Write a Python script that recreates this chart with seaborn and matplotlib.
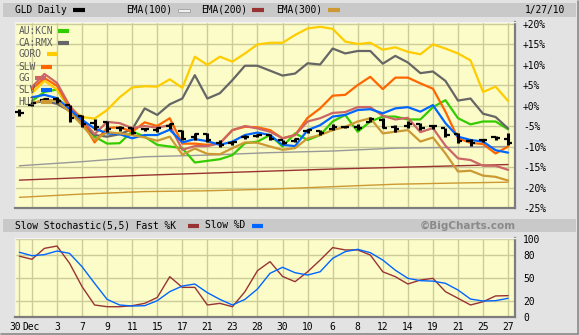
import matplotlib
matplotlib.use("Agg")
import matplotlib.pyplot as plt
import matplotlib.transforms as mtransforms
import seaborn as sns
from matplotlib.patches import Rectangle
from matplotlib.lines import Line2D

# ---------------------------------------------------------------- data
days = list(range(40))                       # trading days 30 Nov 2009 .. 27 Jan 2010
tick_days = [0, 1, 3, 5, 7, 9, 11, 13, 15, 17, 19, 21, 23, 25, 27, 29, 31, 33, 35, 37, 39]
tick_labels = ["30", "Dec", "3", "7", "9", "11", "15", "17", "21", "23", "28", "30",
               "10", "6", "8", "12", "14", "19", "21", "25", "27"]

# GLD daily bars, % change
gld_open = [-1.6, 0.2, 1.4, 1.6, 0.2, -2.6, -4.2, -4.0, -5.4, -5.6, -5.8, -5.9, -5.0, -6.2,
            -7.6, -7.0, -9.2, -9.2, -7.8, -7.4, -7.3, -8.5, -8.6, -6.3, -6.2, -5.8, -5.3,
            -5.2, -4.0, -3.6, -5.2, -5.0, -4.6, -5.0, -5.6, -7.0, -8.6, -8.4, -7.8, -8.1]
gld_high = [-0.8, 0.9, 1.9, 2.0, 0.2, -2.2, -3.4, -3.8, -5.0, -5.3, -5.4, -5.3, -4.3, -6.0,
            -6.8, -6.8, -8.4, -8.6, -7.3, -7.0, -7.0, -8.3, -7.9, -5.8, -5.9, -4.6, -5.0,
            -4.6, -2.8, -3.0, -4.8, -3.9, -4.3, -4.8, -5.6, -6.8, -8.2, -8.1, -7.5, -6.8]
gld_low = [-2.6, 0.0, 1.2, 0.5, -4.0, -5.2, -5.9, -6.5, -6.1, -7.0, -6.1, -6.5, -5.7, -8.4,
           -8.4, -8.8, -10.0, -9.6, -8.2, -7.7, -8.4, -9.5, -8.9, -6.6, -7.2, -6.0, -5.6,
           -6.0, -4.0, -5.6, -6.4, -5.4, -6.0, -5.7, -7.7, -9.2, -9.8, -8.9, -8.5, -9.7]
gld_close = [-1.9, 0.6, 1.6, 1.2, -3.0, -4.6, -5.2, -5.7, -5.5, -6.6, -5.7, -5.6, -4.5, -8.1,
             -7.0, -8.5, -9.6, -9.0, -7.6, -7.2, -8.1, -9.1, -8.1, -6.0, -6.6, -5.3, -5.3,
             -5.6, -3.3, -5.4, -5.7, -4.6, -5.5, -5.0, -7.2, -8.6, -9.1, -8.4, -8.0, -9.2]

# moving averages of GLD, % change
ema_days = [0, 5, 10, 15, 20, 25, 30, 35, 39]
ema100 = [-14.7, -13.7, -12.5, -12.1, -11.5, -11.1, -10.4, -10.2, -10.0]
ema200 = [-18.2, -17.6, -17.0, -16.5, -16.0, -15.5, -15.1, -14.7, -14.4]
ema300 = [-22.4, -21.6, -21.0, -20.8, -20.4, -19.8, -19.2, -18.9, -18.7]

# comparison symbols, % change
stock_days = list(range(1, 40))
au_kcn = [1.1, 3.3, 3.9, -0.7, -3.9, -7.6, -9.3, -9.2, -6.3, -7.6, -9.6, -10.0, -10.4, -13.9,
          -13.5, -13.1, -12.1, -9.2, -8.8, -7.2, -10.0, -6.8, -8.4, -7.2, -3.9, -2.3, -6.4,
          -3.9, -2.7, -2.7, -3.4, -3.4, -0.4, 1.3, -3.1, -4.6, -3.9, -3.9, -5.8]
ca_rmx = [0.6, 1.1, 0.4, -1.3, -4.6, -7.2, -7.6, -7.0, -5.8, -0.7, -2.3, 0.3, 1.7, 7.4, 1.7,
          3.0, 6.2, 9.7, 9.7, 8.5, 7.3, 7.8, 10.3, 10.0, 13.9, 12.7, 13.3, 13.3, 10.2, 12.1,
          10.5, 7.9, 8.3, 6.0, 1.2, 1.7, -2.0, -2.8, -5.6]
goro = [3.0, 6.0, 3.9, -0.5, -2.8, -3.2, -1.1, 2.0, 4.4, 4.7, 4.6, 6.4, 4.3, 11.9, 9.9, 11.9,
        10.7, 12.7, 14.9, 15.3, 15.3, 17.2, 18.8, 19.2, 18.7, 15.6, 15.0, 15.3, 13.6, 14.2,
        13.1, 12.5, 14.9, 13.9, 12.7, 11.0, 3.3, 4.6, 1.1]
slw = [4.0, 6.7, 4.8, -0.5, -3.8, -9.0, -5.5, -5.3, -6.4, -4.1, -5.0, -3.1, -9.3, -9.3, -9.6,
       -9.2, -6.0, -5.2, -5.3, -6.0, -8.0, -7.2, -3.0, -0.7, 2.4, 2.6, 5.0, 7.0, 4.0, 6.8, 6.8,
       5.4, 4.1, -1.5, -8.0, -9.1, -9.4, -11.7, -10.0]
gg = [4.5, 7.7, 5.5, 0.0, -3.5, -7.0, -4.0, -4.3, -5.5, -5.0, -5.4, -4.8, -10.8, -9.9, -9.9,
      -9.2, -6.0, -5.0, -5.6, -6.4, -8.0, -7.2, -3.9, -3.1, -1.8, -1.6, -0.4, -0.4, -2.5, -3.4,
      -3.0, -6.5, -5.5, -9.8, -12.9, -13.3, -14.7, -14.7, -15.7]
slv = [2.0, 2.6, 1.8, -0.9, -3.5, -5.6, -6.8, -7.0, -8.0, -7.2, -7.2, -5.9, -9.0, -8.2, -8.7,
       -9.6, -8.8, -7.2, -6.6, -7.2, -9.6, -9.9, -6.0, -4.8, -2.7, -2.3, -1.1, -0.9, -1.9, -0.7,
       -0.4, -1.5, 0.1, -4.3, -7.6, -8.4, -8.8, -10.9, -11.5]
hui = [0.5, 1.5, 1.1, -1.5, -4.8, -8.4, -6.5, -6.8, -7.2, -7.8, -8.6, -7.6, -12.0, -10.5,
       -11.8, -11.9, -10.4, -9.0, -9.1, -10.0, -10.8, -10.4, -8.0, -7.2, -6.0, -5.2, -3.9,
       -3.1, -6.8, -6.4, -6.0, -8.8, -7.8, -11.7, -16.1, -15.9, -17.1, -17.4, -18.3]

# slow stochastic (5,5)
fast_k = [78, 74, 88, 91, 69, 39, 15.4, 13.2, 13.2, 14.5, 17.5, 25, 51.7, 38, 38, 15.4, 17.5,
          13.2, 32.5, 59.4, 71, 52, 45.3, 58, 73, 89, 86, 86, 79.5, 58, 51.7, 42.3, 47.4, 49.6,
          32.5, 24, 15.4, 19.6, 27, 27.4]
slow_d = [83, 78.6, 80, 84.6, 81.6, 64.5, 43.2, 22.6, 15.4, 14.1, 14.5, 20.9, 32.5, 39.7, 42.3,
          31.2, 22.6, 15.4, 22.6, 35.9, 56, 63.7, 56.8, 53.8, 58, 75.2, 83.8, 86.8, 82.5, 73,
          60, 49.6, 46.6, 46, 43.2, 34.6, 23, 20.5, 20.9, 24]

main_ticks = [20, 15, 10, 5, 0, -5, -10, -15, -20, -25]
main_labels = ["+20%", "+15%", "+10%", "+5%", "+0%", "-5%", "-10%", "-15%", "-20%", "-25%"]
stoch_ticks = [100, 80, 50, 20, 0]
stoch_labels = ["100", "80", "50", "20", "0"]

symbols = ["AU:KCN", "CA:RMX", "GORO", "SLW", "GG", "SLV", "HUI"]
symbol_values = [au_kcn, ca_rmx, goro, slw, gg, slv, hui]
symbol_colors = ["#33cc00", "#666666", "#ffcc00", "#ff6600", "#cc6666", "#0066ff", "#cc9933"]

# ---------------------------------------------------------------- style
sns.set_style("white")
plt.rcParams["font.family"] = ["DejaVu Sans Mono"]
FS = 6.9
PANEL = "#fcfcc8"
GRID = "#cccc99"

W, H = 579, 335
fig = plt.figure(figsize=(W / 100, H / 100), dpi=100)
fig.patch.set_facecolor("#e3e3e3")


def fx(px):
    return px / W


def fy(py):
    return 1 - py / H


def band(x0, y0, x1, y1, color):
    fig.add_artist(Rectangle((fx(x0), fy(y1)), fx(x1) - fx(x0), fy(y0) - fy(y1),
                             transform=fig.transFigure, facecolor=color,
                             edgecolor="none", zorder=0))


def swatch(x0, x1, y, color, lw=3.0):
    fig.add_artist(Line2D([fx(x0), fx(x1)], [fy(y), fy(y)], transform=fig.transFigure,
                          color=color, lw=lw, solid_capstyle="butt", zorder=5))


# header bars
band(3, 3, 576, 17, "#c9c9c9")
band(3, 219, 576, 232, "#c9c9c9")
# outer frame shading
fig.add_artist(Line2D([fx(1), fx(578)], [fy(334), fy(334)], transform=fig.transFigure,
                      color="#8a8a8a", lw=1.2))
fig.add_artist(Line2D([fx(578), fx(578)], [fy(1), fy(334)], transform=fig.transFigure,
                      color="#8a8a8a", lw=1.2))

# ---------------------------------------------------------------- price panel
ax = fig.add_axes([fx(15), fy(208), fx(515) - fx(15), fy(22) - fy(208)])
ax.set_facecolor(PANEL)

for ema, col in zip([ema100, ema200, ema300], ["#999999", "#993333", "#cc9933"]):
    sns.lineplot(x=ema_days, y=ema, color=col, lw=1.0, ax=ax, estimator=None,
                 sort=False, legend=False)

for vals, col in zip(symbol_values, symbol_colors):
    sns.lineplot(x=stock_days, y=vals, color=col, lw=1.6, ax=ax, estimator=None,
                 sort=False, legend=False)

# OHLC bars
ax.vlines(days, gld_low, gld_high, color="black", lw=2.2, zorder=6)
ax.hlines(gld_open, [d - 0.33 for d in days], days, color="black", lw=1.6, zorder=6)
ax.hlines(gld_close, days, [d + 0.33 for d in days], color="black", lw=1.6, zorder=6)

ax.set_xlim(-0.35, 39.55)
ax.set_ylim(-25, 20.37)
ax.set_xticks([d for d in tick_days if d % 2 == 1])
ax.set_yticks(main_ticks)
ax.set_yticklabels(main_labels)
ax.yaxis.tick_right()
ax.tick_params(axis="x", length=0, labelbottom=False)
ax.tick_params(axis="y", length=0, pad=5.8, labelsize=FS, labelcolor="black")
ax.grid(True, color=GRID, lw=1.0)
ax.set_axisbelow(True)
ax.set_xlabel("")
ax.set_ylabel("")
for side in ["left", "top"]:
    ax.spines[side].set_color("#f2f2f2")
    ax.spines[side].set_linewidth(1.0)
for side in ["bottom", "right"]:
    ax.spines[side].set_color("#7d7d7d")
    ax.spines[side].set_linewidth(1.6)

# in-panel symbol key
key_y = [30.7, 42.7, 54.3, 66.7, 78.3, 90.0, 101.7]
for name, col, yy in zip(symbols, symbol_colors, key_y):
    fig.text(fx(18.5), fy(yy), name, ha="left", va="center", fontsize=FS,
             color="#5a5a5a", zorder=7)
    x0 = 18.5 + len(name) * 5.8 + 5
    swatch(x0, x0 + 11, yy, col)

# header texts
hy = 10
fig.text(fx(15), fy(hy), "GLD Daily", ha="left", va="center", fontsize=FS, color="black")
swatch(73, 85, hy, "black")
fig.text(fx(126), fy(hy), "EMA(100)", ha="left", va="center", fontsize=FS, color="black")
fig.add_artist(Rectangle((fx(178), fy(11.5)), fx(190) - fx(178), fy(8.5) - fy(11.5),
                         transform=fig.transFigure, facecolor="#f0f0f0",
                         edgecolor="#a0a0a0", lw=0.6, zorder=5))
fig.text(fx(201), fy(hy), "EMA(200)", ha="left", va="center", fontsize=FS, color="black")
swatch(252, 264, hy, "#993333")
fig.text(fx(276), fy(hy), "EMA(300)", ha="left", va="center", fontsize=FS, color="black")
swatch(328, 340, hy, "#cc9933")
fig.text(fx(565), fy(hy), "1/27/10", ha="right", va="center", fontsize=FS, color="black")

# ---------------------------------------------------------------- stochastic panel
ax2 = fig.add_axes([fx(15), fy(317), fx(515) - fx(15), fy(238) - fy(317)])
ax2.set_facecolor(PANEL)
sns.lineplot(x=days, y=fast_k, color="#993333", lw=1.0, ax=ax2, estimator=None,
             sort=False, legend=False)
sns.lineplot(x=days, y=slow_d, color="#0066ff", lw=1.0, ax=ax2, estimator=None,
             sort=False, legend=False)
ax2.set_xlim(-0.35, 39.55)
ax2.set_ylim(0, 101.3)
ax2.set_xticks(tick_days)
ax2.set_xticklabels(tick_labels)
ax2.set_yticks(stoch_ticks)
ax2.set_yticklabels(stoch_labels)
ax2.yaxis.tick_right()
ax2.tick_params(axis="x", length=0, pad=3.5, labelsize=FS, labelcolor="black")
ax2.tick_params(axis="y", length=0, pad=5.8, labelsize=FS, labelcolor="black")
ax2.grid(True, color=GRID, lw=1.0)
ax2.set_axisbelow(True)
ax2.set_xlabel("")
ax2.set_ylabel("")
for side in ["left", "top"]:
    ax2.spines[side].set_color("#f2f2f2")
    ax2.spines[side].set_linewidth(1.0)
for side in ["bottom", "right"]:
    ax2.spines[side].set_color("#7d7d7d")
    ax2.spines[side].set_linewidth(1.6)

# the first two date labels sit side by side ("30" then "Dec")
xl = ax2.get_xticklabels()
xl[0].set_ha("right")
xl[0].set_transform(xl[0].get_transform()
                    + mtransforms.ScaledTranslation(1.5 / 100, 0, fig.dpi_scale_trans))
xl[1].set_ha("left")
xl[1].set_transform(xl[1].get_transform()
                    + mtransforms.ScaledTranslation(-9.5 / 100, 0, fig.dpi_scale_trans))

sy = 225.5
fig.text(fx(15), fy(sy), "Slow Stochastic(5,5) Fast %K", ha="left", va="center",
         fontsize=FS, color="black")
swatch(188, 199, sy, "#993333")
fig.text(fx(205), fy(sy), "Slow %D", ha="left", va="center", fontsize=FS, color="black")
swatch(252, 263, sy, "#0066ff")
fig.text(fx(516), fy(sy), "\u00a9BigCharts.com", ha="right", va="center", fontsize=7.5,
         fontweight="bold", color="#8a8a8a", family="DejaVu Sans")

fig.savefig("out.png", dpi=100, facecolor=fig.get_facecolor())
